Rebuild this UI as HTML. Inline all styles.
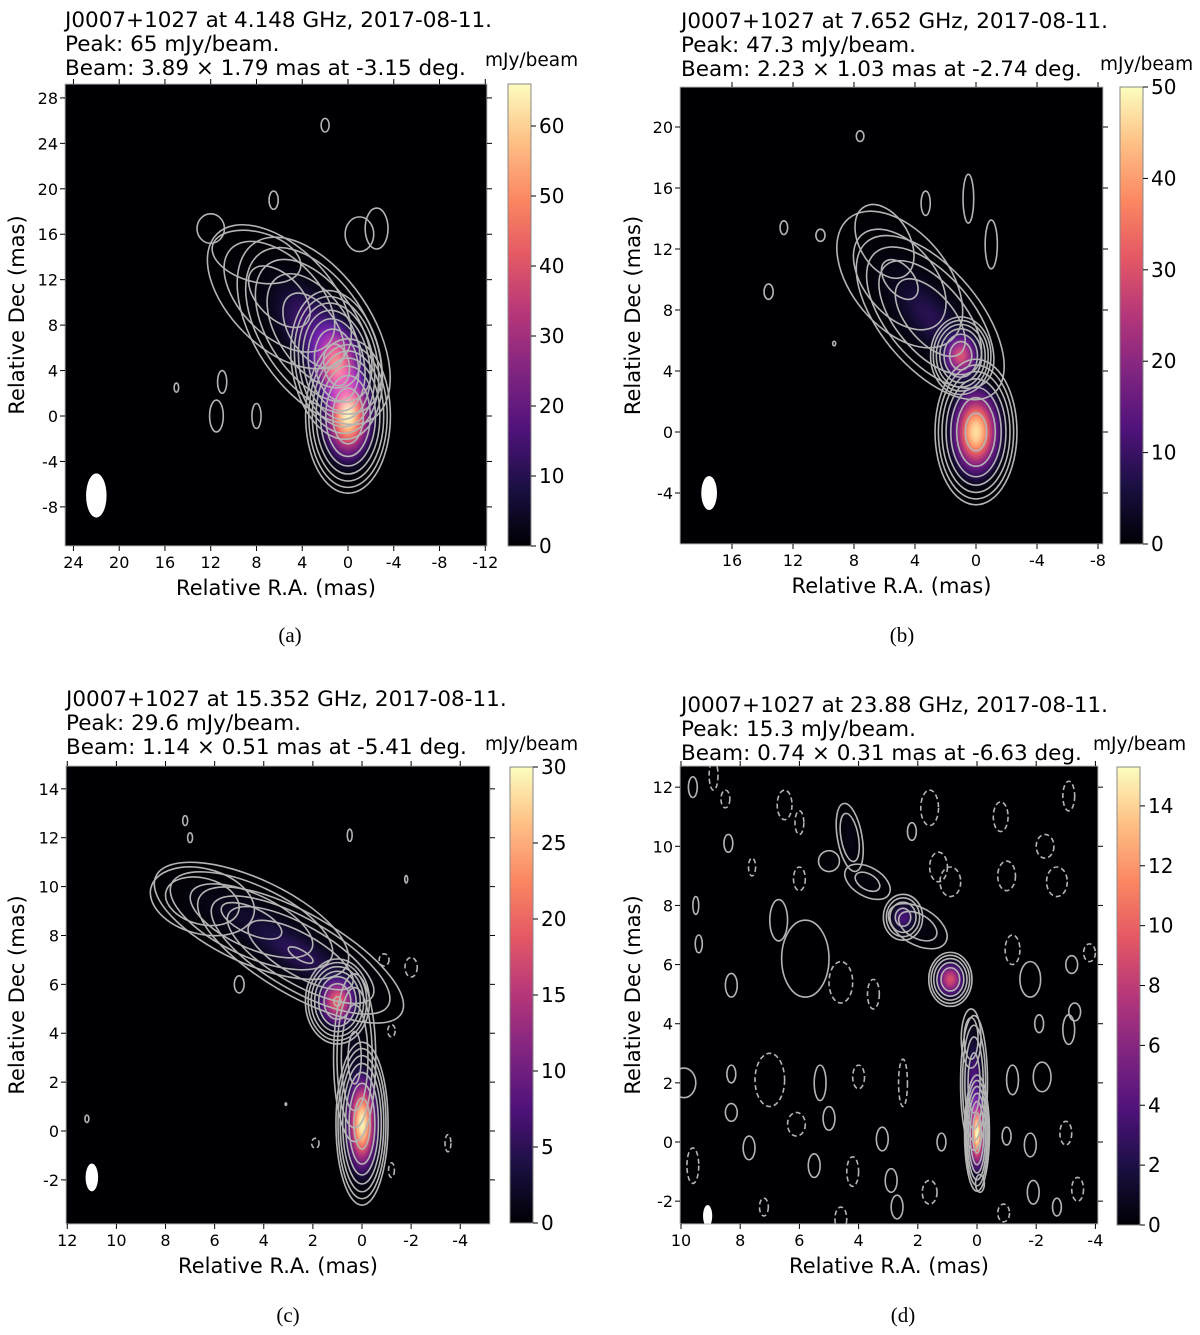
<!DOCTYPE html>
<html><head><meta charset="utf-8">
<style>
body{margin:0;background:#fff;}
svg{display:block;font-family:"DejaVu Sans","Liberation Sans",sans-serif;}
.t{font-size:21.5px;fill:#000}
.cbt{font-size:20px;fill:#000}
.tk{font-size:16px;fill:#000}
.lab{font-size:21px;fill:#000}
.cap{font-family:"Liberation Serif",serif;font-size:21px;fill:#000}
</style></head>
<body>
<svg id="fig" width="1200" height="1335" viewBox="0 0 1200 1335" xmlns="http://www.w3.org/2000/svg">
<defs>
<linearGradient id="magma" x1="0" y1="1" x2="0" y2="0">
<stop offset="0" stop-color="#000004"/><stop offset="0.13" stop-color="#1c1044"/><stop offset="0.25" stop-color="#4f127b"/><stop offset="0.38" stop-color="#812581"/><stop offset="0.5" stop-color="#b5367a"/><stop offset="0.63" stop-color="#e55964"/><stop offset="0.75" stop-color="#fb8761"/><stop offset="0.88" stop-color="#fec287"/><stop offset="1" stop-color="#fcfdbf"/>
</linearGradient>
</defs>
</svg>
<script>
// ---- panel data ----
const panelIds = ['a','b','c','d'];
const freqs = ['4.148','7.652','15.352','23.88'];
const peaks = ['65','47.3','29.6','15.3'];
const beamMaj = [3.89, 2.23, 1.14, 0.74];
const beamMin = [1.79, 1.03, 0.51, 0.31];
const beamPA = ['-3.15','-2.74','-5.41','-6.63'];
const beamPos = [[22,-7],[17.5,-4],[11,-1.9],[9.1,-2.5]];
const xTicksA = [24,20,16,12,8,4,0,-4,-8,-12];
const yTicksA = [28,24,20,16,12,8,4,0,-4,-8];
const xTicksB = [16,12,8,4,0,-4,-8];
const yTicksB = [20,16,12,8,4,0,-4];
const xTicksC = [12,10,8,6,4,2,0,-2,-4];
const yTicksC = [14,12,10,8,6,4,2,0,-2];
const xTicksD = [10,8,6,4,2,0,-2,-4];
const yTicksD = [12,10,8,6,4,2,0,-2];
const cbTicksA = [0,10,20,30,40,50,60];
const cbTicksB = [0,10,20,30,40,50];
const cbTicksC = [0,5,10,15,20,25,30];
const cbTicksD = [0,2,4,6,8,10,12,14];
const cbMax = [66, 50, 30, 15.3];
// components: [ra, dec, sigmaX(mas), sigmaY(mas), screen-rotation(deg), peak mJy]
const compsA = [[0,0,1.2,2.2,0,65],[1,4.5,1.3,2.2,-10,50],[3,7.5,3.6,2.0,56,15],[6,10.5,4.2,2.4,45,3],[8,14,4,2.2,15,0.9],[-1,16,1.8,2.2,0,0.7]];
const compsB = [[0,0,0.9,1.6,0,47.3],[1,5,0.7,0.9,0,30],[3,7.5,2.8,1.4,50,8],[5,10,3,1.8,50,2.5],[6,12.5,2.4,1.5,60,1]];
const compsC = [[0,0.3,0.35,1.1,0,29.6],[1,5.3,0.45,0.6,0,20],[0.3,3,0.4,1.6,0,3],[2.5,7.2,2.0,0.7,30,5],[4.5,8.6,2.0,0.8,25,3],[6.5,9.4,1.3,0.8,15,1.2]];
const compsD = [[0,0.3,0.15,0.7,0,15.3],[0.1,2,0.2,1,0,4],[0.9,5.5,0.28,0.35,0,9],[0.2,3.5,0.2,0.6,0,1.2],[2.5,7.6,0.3,0.35,0,3.5],[2,7.3,0.7,0.4,30,1],[3.7,8.8,0.6,0.35,30,0.8],[4.3,10.3,0.25,0.7,-10,1.2],[5,9.5,0.3,0.3,0,0.6]];
const levelsA = [0.55,1.1,2.2,4.4,8.8,17.6,35];
const levelsB = [0.55,1.1,2.2,4.4,8.8,17.6,35];
const levelsC = [0.3,0.6,1.2,2.4,4.8,9.6,19];
const levelsD = [0.3,0.6,1.2,2.4,4.8,9.6];
// isolated noise islands [ra, dec, rx(mas), ry(mas), dashed]
const islandsA = [[2,25.6,0.35,0.6,0],[6.5,19,0.4,0.8,0],[-2.5,16.5,1,1.8,0],[12,16.5,1.2,1.3,0],[11,3,0.4,1,0],[15,2.5,0.2,0.4,0],[11.5,0,0.6,1.4,0],[8,0,0.4,1.1,0]];
const islandsB = [[7.6,19.4,0.25,0.35,0],[3.3,15,0.3,0.8,0],[0.5,15.3,0.35,1.6,0],[-1,12.3,0.4,1.6,0],[12.6,13.4,0.25,0.45,0],[10.2,12.9,0.3,0.4,0],[13.6,9.2,0.3,0.5,0],[9.3,5.8,0.1,0.15,0]];
const islandsC = [[7.2,12.7,0.1,0.2,0],[7,12,0.1,0.2,0],[0.5,12.1,0.1,0.25,0],[-1.8,10.3,0.06,0.15,0],[5,6,0.2,0.35,0],[-0.9,7,0.2,0.25,1],[-2,6.7,0.25,0.4,1],[-1.2,4.1,0.15,0.25,1],[-3.5,-0.5,0.12,0.35,1],[11.2,0.5,0.08,0.15,0],[1.9,-0.5,0.15,0.2,1],[-1.2,-1.6,0.12,0.3,1],[3.1,1.1,0.03,0.05,0]];
const islandsD = [[9.6,12,0.15,0.35,0],[8.9,12.4,0.15,0.5,1],[8.5,11.6,0.15,0.3,1],[6.5,11.4,0.25,0.5,1],[6,10.8,0.15,0.4,1],[8.4,10.1,0.15,0.3,0],[7.6,9.3,0.12,0.3,1],[6,8.9,0.2,0.4,1],[6.7,7.5,0.3,0.7,0],[9.5,8,0.1,0.3,0],[9.4,6.7,0.12,0.3,0],[8.3,5.3,0.2,0.4,0],[5.8,6.2,0.8,1.3,0],[4.6,5.4,0.4,0.7,1],[3.5,5,0.2,0.5,1],[1.6,11.3,0.3,0.6,1],[2.2,10.5,0.15,0.3,0],[1.3,9.3,0.3,0.5,1],[0.9,8.8,0.35,0.5,1],[-1,9,0.3,0.5,1],[-0.8,11,0.25,0.5,1],[-2.3,10,0.3,0.4,1],[-3.1,11.7,0.2,0.5,1],[-2.7,8.8,0.35,0.5,1],[-1.2,6.5,0.25,0.5,1],[-3.8,6.4,0.2,0.3,1],[-3.2,6,0.2,0.3,0],[-1.8,5.5,0.35,0.6,0],[-3.3,4.4,0.2,0.3,0],[-2.1,4,0.15,0.3,0],[-3.1,3.8,0.2,0.5,0],[9.9,2,0.4,0.5,0],[8.3,2.3,0.15,0.3,0],[7,2.1,0.5,0.9,1],[5.3,2,0.2,0.6,0],[4,2.2,0.2,0.4,1],[2.5,2,0.15,0.8,1],[-1.2,2.1,0.2,0.5,0],[-2.2,2.2,0.3,0.5,0],[8.3,1,0.2,0.3,0],[6.1,0.6,0.3,0.4,1],[5,0.8,0.2,0.4,0],[3.2,0.1,0.2,0.4,0],[1.2,0,0.15,0.3,0],[-1.8,-0.1,0.2,0.4,0],[-1,0.2,0.15,0.3,0],[-3,0.3,0.2,0.4,1],[7.7,-0.2,0.2,0.4,0],[9.6,-0.8,0.2,0.6,1],[5.5,-0.8,0.2,0.4,0],[4.2,-1,0.2,0.5,1],[2.9,-1.3,0.2,0.4,0],[1.6,-1.7,0.25,0.4,1],[-0.1,-1.4,0.15,0.3,0],[-1.9,-1.7,0.2,0.4,0],[-3.4,-1.6,0.2,0.4,1],[7.2,-2.2,0.15,0.3,1],[4.6,-2.6,0.2,0.4,1],[2.7,-2.2,0.2,0.4,0],[-0.9,-2.4,0.2,0.3,1],[-2.7,-2.2,0.15,0.3,0]];

// ---- geometry (pixel layout, not data) ----
const layout = [
 {L:65,R:487,T:84,B:546,x0:348,xs:11.44,y0:416,ys:11.36,cbL:508,cbR:531,cbT:84,cbB:546,tx:65,ty:27,ux:485,uy:66,cx:290,cy:642,ylx:22},
 {L:680,R:1103,T:87,B:544,x0:976,xs:15.25,y0:432,ys:15.25,cbL:1120,cbR:1143,cbT:87,cbB:544,tx:681,ty:28,ux:1100,uy:70,cx:902,cy:642,ylx:638},
 {L:66,R:490,T:766,B:1224,x0:362,xs:24.56,y0:1131,ys:24.44,cbL:510,cbR:533,cbT:767,cbB:1223,tx:66,ty:706,ux:485,uy:750,cx:288,cy:1322,ylx:22},
 {L:680,R:1098,T:766,B:1224,x0:977,xs:29.6,y0:1142,ys:29.57,cbL:1117,cbR:1140,cbT:767,cbB:1225,tx:681,ty:712,ux:1093,uy:750,cx:903,cy:1322,ylx:638}
];
const xTicksAll=[xTicksA,xTicksB,xTicksC,xTicksD], yTicksAll=[yTicksA,yTicksB,yTicksC,yTicksD];
const cbTicksAll=[cbTicksA,cbTicksB,cbTicksC,cbTicksD];
const compsAll=[compsA,compsB,compsC,compsD], levelsAll=[levelsA,levelsB,levelsC,levelsD];
const islandsAll=[islandsA,islandsB,islandsC,islandsD];

const NS='http://www.w3.org/2000/svg';
const svg=document.getElementById('fig');
const defs=svg.querySelector('defs');
function mk(tag,attrs,parent){const e=document.createElementNS(NS,tag);for(const k in attrs)e.setAttribute(k,attrs[k]);(parent||svg).appendChild(e);return e;}
const mag=[[0,0,0,4],[0.13,28,16,68],[0.25,79,18,123],[0.38,129,37,129],[0.5,181,54,122],[0.63,229,89,100],[0.75,251,135,97],[0.88,254,194,135],[1,252,253,191]];
function magma(t){t=Math.max(0,Math.min(1,t));for(let i=1;i<mag.length;i++){if(t<=mag[i][0]){const a=mag[i-1],b=mag[i],f=(t-a[0])/(b[0]-a[0]);return 'rgb('+[1,2,3].map(j=>Math.round(a[j]+(b[j]-a[j])*f)).join(',')+')';}}return 'rgb(252,253,191)';}

layout.forEach((g,p)=>{
  const X=v=>g.x0-v*g.xs, Y=v=>g.y0-v*g.ys;
  const grp=mk('g',{});
  
  
  const tl=[`J0007+1027 at ${freqs[p]} GHz, 2017-08-11.`,`Peak: ${peaks[p]} mJy/beam.`,`Beam: ${beamMaj[p].toFixed(2)} × ${beamMin[p].toFixed(2)} mas at ${beamPA[p]} deg.`];
  tl.forEach((s,i)=>{const t=mk('text',{x:g.tx,y:g.ty+i*24,class:'t'},grp);t.textContent=s;
    
    });
  const cp=mk('clipPath',{id:'clip'+p},defs);mk('rect',{x:g.L,y:g.T,width:g.R-g.L,height:g.B-g.T},cp);
  const bg=mk('rect',{x:g.L,y:g.T,width:g.R-g.L,height:g.B-g.T,fill:'#000004'},grp);
  
  
  const img=mk('g',{'clip-path':'url(#clip'+p+')'},grp);
  const comps=compsAll[p], lv=levelsAll[p];
  comps.forEach((c,i)=>{
    const id='rg'+p+'_'+i;const rg=mk('radialGradient',{id:id},defs);
    for(let k=0;k<=10;k++){const r=k/10,v=c[5]*Math.exp(-(3*r)*(3*r)/2);const tv=v/cbMax[p];
      mk('stop',{offset:r,'stop-color':magma(tv),'stop-opacity':Math.min(1,tv*6)},rg);}
    const e=mk('ellipse',{cx:0,cy:0,rx:3*c[2]*g.xs,ry:3*c[3]*g.ys,fill:'url(#'+id+')',transform:`translate(${X(c[0])},${Y(c[1])}) rotate(${c[4]})`,style:'mix-blend-mode:screen'},img);
    
    
  });
  comps.forEach(c=>{lv.forEach(L=>{if(c[5]>L){const k=Math.sqrt(2*Math.log(c[5]/L));
    const e=mk('ellipse',{cx:0,cy:0,rx:k*c[2]*g.xs,ry:k*c[3]*g.ys,fill:'none',stroke:'#b4b4b4','stroke-width':1.6,transform:`translate(${X(c[0])},${Y(c[1])}) rotate(${c[4]})`},img);
    
    }});});
  islandsAll[p].forEach(s=>{
    const e=mk('ellipse',{cx:X(s[0]),cy:Y(s[1]),rx:s[2]*g.xs,ry:s[3]*g.ys,fill:'none',stroke:'#b4b4b4','stroke-width':1.6,'stroke-dasharray':s[4]?'5,3':'none'},img);
    
    });
  const b=mk('ellipse',{cx:X(beamPos[p][0]),cy:Y(beamPos[p][1]),rx:beamMin[p]/2*g.xs,ry:beamMaj[p]/2*g.ys,fill:'#fff'},grp);
  
  
  mk('rect',{x:g.L,y:g.T,width:g.R-g.L,height:g.B-g.T,fill:'none',stroke:'#bbb','stroke-width':1},grp);
  xTicksAll[p].forEach(v=>{const x=X(v);
    mk('line',{x1:x,x2:x,y1:g.B,y2:g.B+5,stroke:'#000'},grp);mk('line',{x1:x,x2:x,y1:g.T,y2:g.T-5,stroke:'#000'},grp);
    const t=mk('text',{x:x,y:g.B+22,class:'tk','text-anchor':'middle'},grp);t.textContent=v;
    
    });
  yTicksAll[p].forEach(v=>{const y=Y(v);
    mk('line',{x1:g.L,x2:g.L-5,y1:y,y2:y,stroke:'#000'},grp);mk('line',{x1:g.R,x2:g.R+5,y1:y,y2:y,stroke:'#000'},grp);
    const t=mk('text',{x:g.L-7,y:y+6,class:'tk','text-anchor':'end'},grp);t.textContent=v;
    
    });
  const xl=mk('text',{x:(g.L+g.R)/2,y:g.B+49,class:'lab','text-anchor':'middle'},grp);xl.textContent='Relative R.A. (mas)';
  
  
  const yl=mk('text',{x:0,y:0,class:'lab','text-anchor':'middle',transform:`translate(${g.ylx+2},${(g.T+g.B)/2}) rotate(-90)`},grp);yl.textContent='Relative Dec (mas)';
  
  
  const cb=mk('rect',{x:g.cbL,y:g.cbT,width:g.cbR-g.cbL,height:g.cbB-g.cbT,fill:'url(#magma)',stroke:'#888','stroke-width':1},grp);
  
  
  const cs=(g.cbB-g.cbT)/cbMax[p];
  cbTicksAll[p].forEach(v=>{const y=g.cbB-v*cs;
    mk('line',{x1:g.cbR,x2:g.cbR+5,y1:y,y2:y,stroke:'#000'},grp);
    const t=mk('text',{x:g.cbR+8,y:y+7,class:'cbt'},grp);t.textContent=v;
    
    });
  const u=mk('text',{x:g.ux,y:g.uy,class:'tk',style:'font-size:18.5px'},grp);u.textContent='mJy/beam';
  
  
  const cap=mk('text',{x:g.cx,y:g.cy,class:'cap','text-anchor':'middle'},grp);cap.textContent='('+panelIds[p]+')';
  
  
});
</script>
</body></html>
